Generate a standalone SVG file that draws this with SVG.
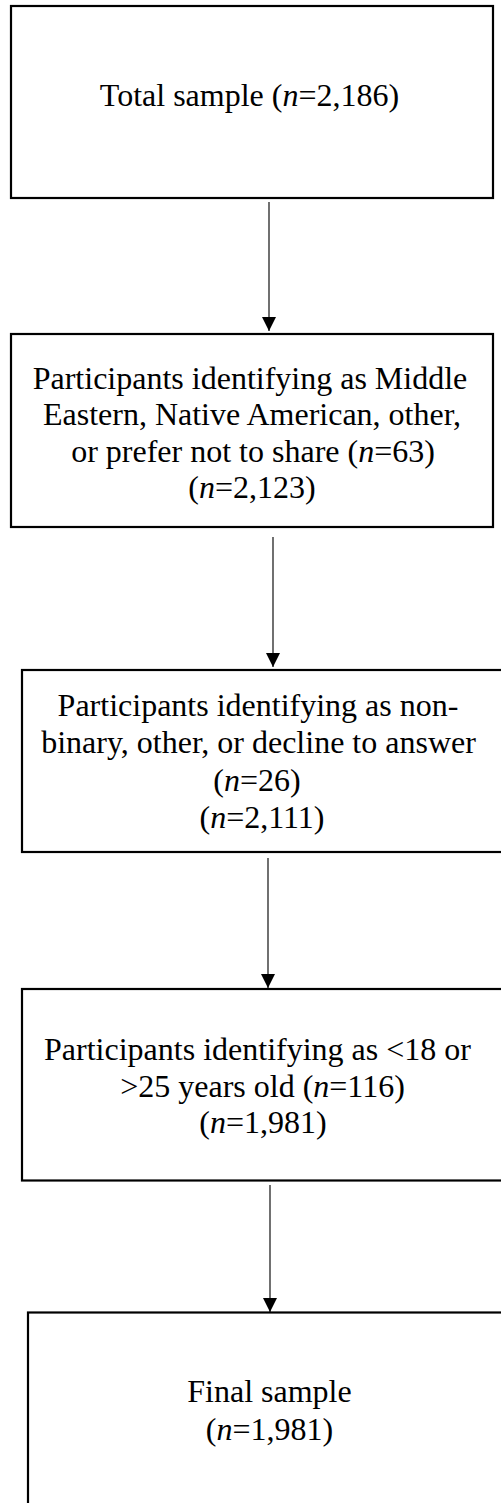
<svg xmlns="http://www.w3.org/2000/svg" width="501" height="1503" viewBox="0 0 501 1503">
<style>
.box{fill:#fff;stroke:#000;stroke-width:2.2}
.t{font-family:"Liberation Serif","Times New Roman",serif;font-size:32px;fill:#000;text-anchor:middle}
.i{font-style:italic}
.c{stroke:#111;stroke-width:1.2;fill:none;marker-end:url(#ah)}
</style>
<defs>
<marker id="ah" markerWidth="14" markerHeight="14" refX="14" refY="7" orient="auto" markerUnits="userSpaceOnUse" viewBox="0 0 14 14">
<path d="M0,0 L14,7 L0,14 Z" fill="#000"/>
</marker>
</defs>
<rect width="501" height="1503" fill="#fff"/>
<g id="connectors">
<path class="c" d="M269,202 V331"/>
<path class="c" d="M273,537 V667"/>
<path class="c" d="M268,858 V988"/>
<path class="c" d="M270,1185 V1312"/>
</g>
<g id="n1">
<rect class="box" x="11" y="6" width="482" height="192"/>
<text class="t" x="249.5" y="106">Total sample (<tspan class="i">n</tspan>=2,186)</text>
</g>
<g id="n2">
<rect class="box" x="11" y="334" width="482" height="193"/>
<text class="t" x="250" y="389">Participants identifying as Middle</text>
<text class="t" x="252" y="425">Eastern, Native American, other,</text>
<text class="t" x="253" y="461.5">or prefer not to share (<tspan class="i">n</tspan>=63)</text>
<text class="t" x="252" y="498">(<tspan class="i">n</tspan>=2,123)</text>
</g>
<g id="n3">
<rect class="box" x="22" y="670" width="490" height="182"/>
<text class="t" x="258" y="716">Participants identifying as non-</text>
<text class="t" x="258.5" y="753">binary, other, or decline to answer</text>
<text class="t" x="257" y="791">(<tspan class="i">n</tspan>=26)</text>
<text class="t" x="262" y="828">(<tspan class="i">n</tspan>=2,111)</text>
</g>
<g id="n4">
<rect class="box" x="22" y="989" width="490" height="191.5"/>
<text class="t" x="257.5" y="1060">Participants identifying as &lt;18 or</text>
<text class="t" x="262.5" y="1097">&gt;25 years old (<tspan class="i">n</tspan>=116)</text>
<text class="t" x="263" y="1133">(<tspan class="i">n</tspan>=1,981)</text>
</g>
<g id="n5">
<rect class="box" x="28" y="1312.5" width="490" height="200"/>
<text class="t" x="269.5" y="1402">Final sample</text>
<text class="t" x="269.5" y="1440">(<tspan class="i">n</tspan>=1,981)</text>
</g>
</svg>
